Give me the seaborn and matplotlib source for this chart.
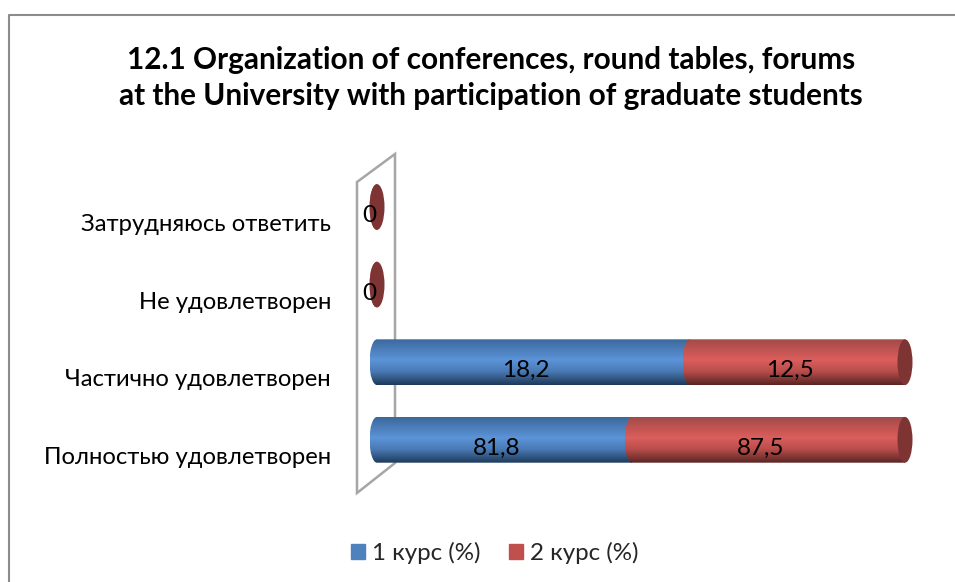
import numpy as np
import pandas as pd
import matplotlib
matplotlib.use("Agg")
import matplotlib.pyplot as plt
import seaborn as sns
from matplotlib.colors import LinearSegmentedColormap
from matplotlib.lines import Line2D
from matplotlib.patches import Ellipse, PathPatch, Polygon, Rectangle
from matplotlib.path import Path
from matplotlib.transforms import ScaledTranslation

# ----------------------------
# DATA
# ----------------------------
categories = ["Затрудняюсь ответить", "Не удовлетворен",
              "Частично удовлетворен", "Полностью удовлетворен"]
course1 = [0, 0, 18.2, 81.8]
course2 = [0, 0, 12.5, 87.5]
labels1 = ["", "", "18,2", "81,8"]
labels2 = ["0", "0", "12,5", "87,5"]
series_names = ["1 курс (%)", "2 курс (%)"]
title = ("12.1 Organization of conferences, round tables, forums\n"
         "at the University with participation of graduate students")

df = pd.DataFrame({"cat": categories, "c1": course1, "c2": course2})
totals = (df["c1"] + df["c2"]).replace(0, 1)
df["p1"] = df["c1"] / totals * 100
df["p2"] = df["c2"] / totals * 100

# ----------------------------
# STYLE
# ----------------------------
W, H = 955, 582
sns.set_theme(style="white")
plt.rcParams["font.family"] = ["Lato", "Open Sans", "DejaVu Sans"]

blue_map = LinearSegmentedColormap.from_list(
    "b", [(0, "#3C689C"), (0.45, "#5B94D8"), (0.7, "#4A7AB5"), (1, "#1E3A5A")])
red_map = LinearSegmentedColormap.from_list(
    "r", [(0, "#A24A48"), (0.45, "#DC5E5C"), (0.7, "#B84E4C"), (1, "#5A2422")])
cap_color = "#7E3432"
PX_PER_UNIT = 5.28
CAP_HALF = 7.5 / PX_PER_UNIT  # half-width of the cylinder ends, data units

# axes box in pixels, wide enough for the bulging cylinder ends
AX_L, AX_R, AX_T, AX_B = 340, 940, 168, 480
fig = plt.figure(figsize=(W / 100, H / 100), dpi=100)
ax = fig.add_axes([AX_L / W, 1 - AX_B / H, (AX_R - AX_L) / W, (AX_B - AX_T) / H])
ax.patch.set_visible(False)

# frame (only top and left show in the crop) and back wall, figure coordinates
fig.add_artist(Line2D([9 / W, 9 / W, 1], [0, 1 - 15 / H, 1 - 15 / H], color="#8C8C8C", lw=1.5,
                      transform=fig.transFigure, zorder=-2))
wall = [(357, 182), (395, 154), (395, 463), (357, 493)]
fig.add_artist(Polygon([(x / W, 1 - y / H) for x, y in wall], closed=True,
                       fill=False, edgecolor="#A6A6A6", lw=1.8,
                       transform=fig.transFigure, zorder=-1))

# ----------------------------
# BARS
# ----------------------------
sns.barplot(data=df, y="cat", x="p1", color="#4F81BD", width=0.59,
            saturation=1, ax=ax, orient="y")
n_first = len(ax.patches)
sns.barplot(data=df, y="cat", x="p2", left=df["p1"].values, color="#C0504D",
            width=0.59, saturation=1, ax=ax, orient="y")

ax.set_xlim((AX_L - 377) / PX_PER_UNIT, (AX_R - 377) / PX_PER_UNIT)
ax.set_ylim((AX_B - 207) / 77.6, (AX_T - 207) / 77.6)


def cylinder_body(x0, y0, w, h):
    # left end bulges out as half an ellipse
    k = 0.5523
    xm, ym = x0, y0 + h / 2
    verts = [(x0 + w, y0), (x0, y0),
             (xm - k * CAP_HALF, y0), (xm - CAP_HALF, ym - k * h / 2), (xm - CAP_HALF, ym),
             (xm - CAP_HALF, ym + k * h / 2), (xm - k * CAP_HALF, y0 + h), (x0, y0 + h),
             (x0 + w, y0 + h), (x0 + w, y0)]
    codes = [Path.MOVETO, Path.LINETO, Path.CURVE4, Path.CURVE4, Path.CURVE4,
             Path.CURVE4, Path.CURVE4, Path.CURVE4, Path.LINETO, Path.CLOSEPOLY]
    return Path(verts, codes)


grad = np.linspace(0, 1, 128).reshape(-1, 1)
xlim, ylim = ax.get_xlim(), ax.get_ylim()
for i, bar in enumerate(list(ax.patches)):
    x0, y0, w, h = bar.get_x(), bar.get_y(), bar.get_width(), bar.get_height()
    bar.set_alpha(0)
    first = i < n_first
    if w == 0 and first:
        continue
    z = 2 + i * 0.01
    clip = PathPatch(cylinder_body(x0, y0, w, h), transform=ax.transData,
                     facecolor="none", edgecolor="none")
    ax.add_patch(clip)
    im = ax.imshow(grad, cmap=blue_map if first else red_map, aspect="auto",
                   extent=(x0 - CAP_HALF, x0 + w, y0 + h, y0), zorder=z, origin="upper")
    im.set_clip_path(clip)
    if not first:
        ax.add_patch(Ellipse((x0 + w, y0 + h / 2), 2 * CAP_HALF, h, facecolor=cap_color,
                             edgecolor="none", zorder=z + 0.005))
ax.set_xlim(xlim)
ax.set_ylim(ylim)

# ----------------------------
# VALUE LABELS
# ----------------------------
bars = ax.patches[:n_first], ax.patches[n_first:2 * n_first]
for group, texts in zip(bars, (labels1, labels2)):
    for bar, text in zip(group, texts):
        if text:
            ax.annotate(text, (bar.get_x() + bar.get_width() / 2, bar.get_y() + bar.get_height() / 2),
                        xytext=(-8, -15), textcoords="offset pixels", ha="center", va="baseline",
                        fontsize=17.5, color="black", zorder=5, annotation_clip=False)

# ----------------------------
# AXES TEXT
# ----------------------------
ax.set_xlabel("")
ax.set_ylabel("")
ax.set_xticks([])
sns.despine(ax=ax, left=True, bottom=True)
ax.tick_params(axis="y", length=0, pad=6.5, labelsize=17.2, labelcolor="black")
shift = ScaledTranslation(0, -15.5 / 100, fig.dpi_scale_trans)
for lab in ax.get_yticklabels():
    lab.set_transform(lab.get_transform() + shift)

fig.text(491 / W, 1 - 78 / H, title, ha="center", va="center", fontsize=21.4,
         fontweight="bold", color="black", linespacing=1.39)

handles = [Rectangle((0, 0), 1, 1, color="#4F81BD"), Rectangle((0, 0), 1, 1, color="#C0504D")]
fig.legend(handles, series_names, loc="center", bbox_to_anchor=(495 / W, 1 - 553 / H), ncol=2,
           frameon=False, fontsize=17.4, handlelength=0.58, handleheight=0.58,
           handletextpad=0.29, columnspacing=1.16)

fig.savefig("out.png", dpi=100)
